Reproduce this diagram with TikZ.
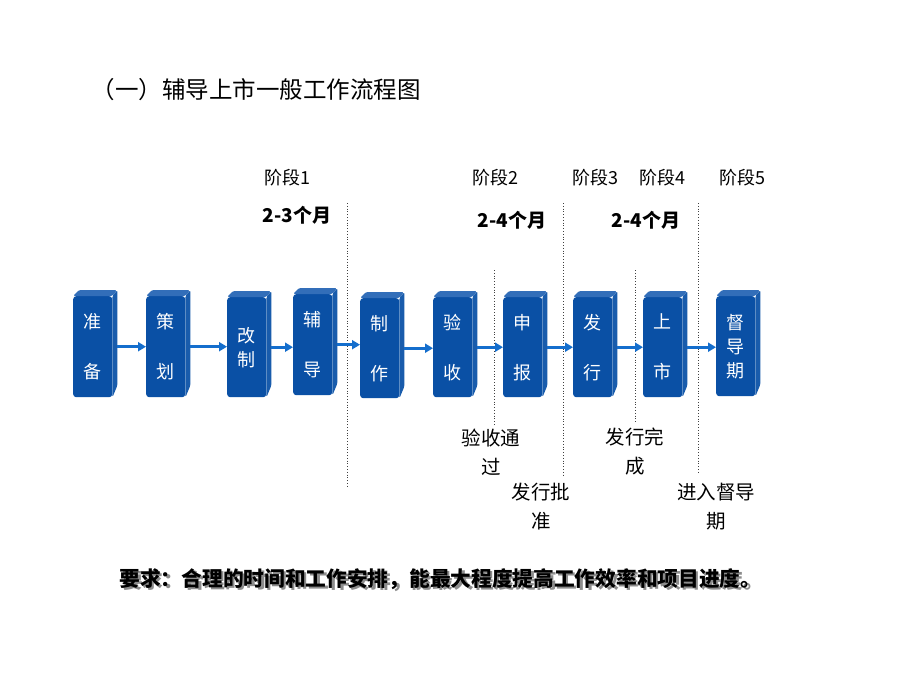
\documentclass[tikz,border=0pt]{standalone}
\usepackage{fontspec}
\setmainfont{Noto Sans CJK SC}
\usetikzlibrary{arrows.meta,calc}
\definecolor{boxfront}{RGB}{10,80,165}
\definecolor{boxtop}{RGB}{50,110,185}
\definecolor{boxside}{RGB}{25,92,172}
\definecolor{arrowblue}{RGB}{20,110,205}
\newcommand\flowbox[5]{%
  \node[frontbox, minimum height={#4-#3-6}] (#1) at (#2,#3+6) {#5};
  \fill[topface] (#1.north west) -- ++(6,-6) -- ++(38,0) -- (#1.north east) -- cycle;
  \fill[sideface] (#1.north east) -- ++(5,-6) -- ($(#1.south east)+(5,-12)$) -- (#1.south east) -- cycle;
}
\newcommand\shadowedtext[1]{\makebox[0pt][l]{\hspace{2.5pt}\raisebox{-2.5pt}{\color{black!45}#1}}#1}
\begin{document}
\begin{tikzpicture}[x=1pt,y=-1pt,
  frontbox/.style={fill=boxfront, rounded corners=3pt, minimum width=39pt, inner sep=0pt,
    text=white, font=\fontsize{18}{24}\selectfont, align=center, anchor=north west},
  topface/.style={fill=boxtop, rounded corners=1.5pt},
  sideface/.style={fill=boxside, rounded corners=1.5pt},
  flowarrow/.style={draw=arrowblue, line width=3pt, -{Triangle[length=8pt,width=9pt]}},
  divider/.style={dotted, line width=0.8pt, black!75},
  stagelabel/.style={font=\fontsize{18}{20}\selectfont},
  monthlabel/.style={font=\bfseries\fontsize{19}{20}\selectfont},
  note/.style={font=\fontsize{19.5}{29}\selectfont, align=center},
  titletext/.style={font=\fontsize{23.5}{26}\selectfont, anchor=west},
  reqtext/.style={font=\bfseries\fontsize{20.7}{24}\selectfont, anchor=west}]
\useasboundingbox (0,0) rectangle (920,690);
\fill[white] (0,0) rectangle (920,690);

% title
\node[titletext] (title) at (88,90) {（一）辅导上市一般工作流程图};

% dividers
\coordinate (d1a) at (347,203); \coordinate (d1b) at (347,488);
\coordinate (d2a) at (494,270); \coordinate (d2b) at (494,425);
\coordinate (d3a) at (563,203); \coordinate (d3b) at (563,475);
\coordinate (d4a) at (635,270); \coordinate (d4b) at (635,423);
\coordinate (d5a) at (698,203); \coordinate (d5b) at (698,473);
\draw[divider] (d1a) -- (d1b);
\draw[divider] (d2a) -- (d2b);
\draw[divider] (d3a) -- (d3b);
\draw[divider] (d4a) -- (d4b);
\draw[divider] (d5a) -- (d5b);

% stage labels
\node[stagelabel] (s1) at (287,178) {阶段1};
\node[stagelabel] (s2) at (495,178) {阶段2};
\node[stagelabel] (s3) at (595,178) {阶段3};
\node[stagelabel] (s4) at (662,178) {阶段4};
\node[stagelabel] (s5) at (742,178) {阶段5};

% durations
\node[monthlabel] (m1) at (297,215) {2-3个月};
\node[monthlabel] (m2) at (512,220) {2-4个月};
\node[monthlabel] (m3) at (646,220) {2-4个月};

% boxes
\flowbox{zb}{73}{290}{397}{准\\[26pt]备}
\flowbox{ch}{146}{290}{397}{策\\[26pt]划}
\flowbox{gz}{227}{291}{397}{改\\制}
\flowbox{fd}{293}{288}{395}{辅\\[26pt]导}
\flowbox{zz}{360}{292}{398}{制\\[26pt]作}
\flowbox{ys}{433}{291}{397}{验\\[26pt]收}
\flowbox{sb}{503}{291}{397}{申\\[26pt]报}
\flowbox{fx}{573}{291}{397}{发\\[26pt]行}
\flowbox{ss}{643}{291}{397}{上\\[26pt]市}
\flowbox{dd}{716}{290}{396}{督\\导\\期}

% arrows
\draw[flowarrow] ([xshift=5pt]zb.east) -- (zb.east -| ch.west);
\draw[flowarrow] ([xshift=5pt]ch.east) -- (ch.east -| gz.west);
\draw[flowarrow] ([xshift=5pt]gz.east) -- (gz.east -| fd.west);
\draw[flowarrow] ([xshift=5pt]fd.east) -- (fd.east -| zz.west);
\draw[flowarrow] ([xshift=5pt]zz.east) -- (zz.east -| ys.west);
\draw[flowarrow] ([xshift=5pt]ys.east) -- (ys.east -| sb.west);
\draw[flowarrow] ([xshift=5pt]sb.east) -- (sb.east -| fx.west);
\draw[flowarrow] ([xshift=5pt]fx.east) -- (fx.east -| ss.west);
\draw[flowarrow] ([xshift=5pt]ss.east) -- (ss.east -| dd.west);

% milestone notes
\node[note] (n1) at (491,452) {验收通\\过};
\node[note] (n2) at (541,507) {发行批\\准};
\node[note] (n3) at (635,452) {发行完\\成};
\node[note] (n4) at (716,507) {进入督导\\期};

% requirement (with drop shadow)
\node[reqtext] (req) at (116,580) {\shadowedtext{要求：合理的时间和工作安排，能最大程度提高工作效率和项目进度。}};
\end{tikzpicture}
\end{document}
